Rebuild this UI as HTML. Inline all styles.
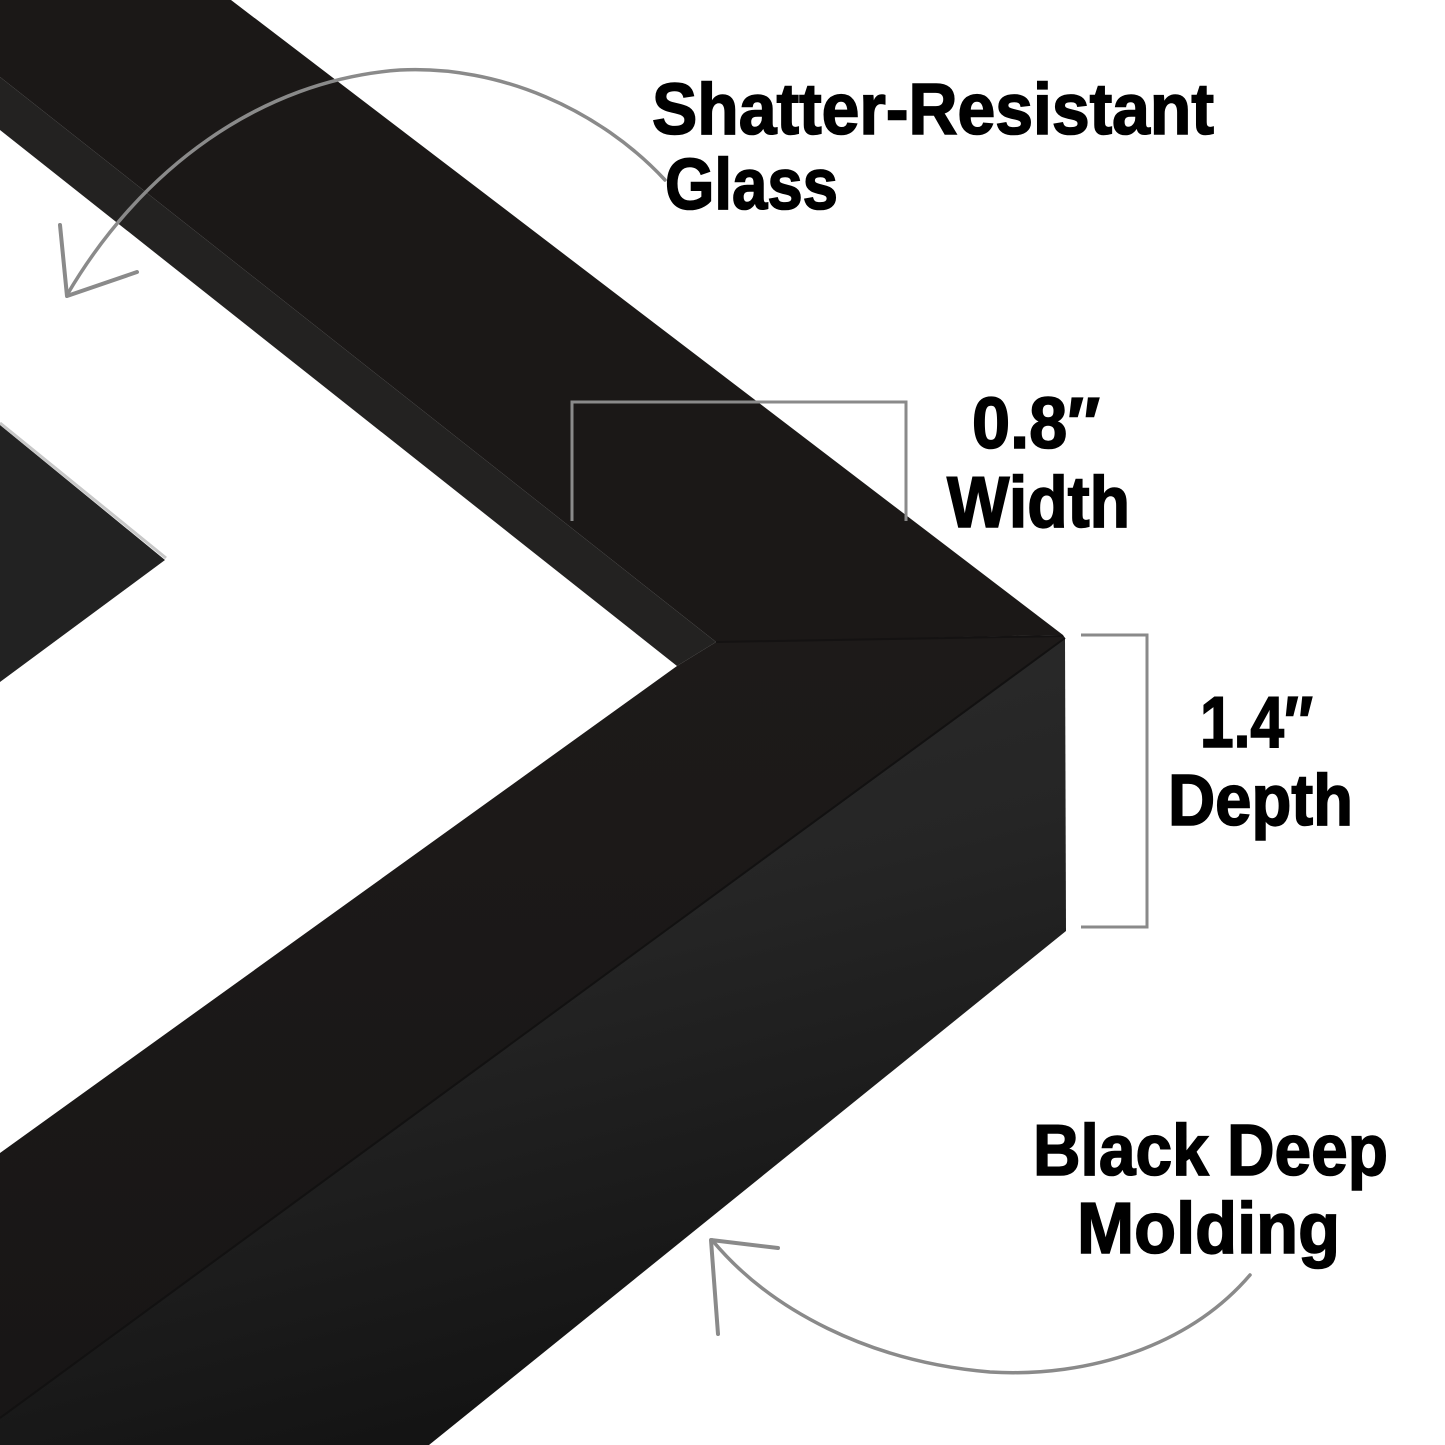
<!DOCTYPE html>
<html><head><meta charset="utf-8"><style>
html,body{margin:0;padding:0;background:#fff;}
svg{display:block;}
text{font-family:"Liberation Sans",sans-serif;font-weight:bold;fill:#000;stroke:#000;stroke-width:1.6;}
</style></head><body>
<svg width="1445" height="1445" viewBox="0 0 1445 1445" xmlns="http://www.w3.org/2000/svg">
<defs>
<linearGradient id="side" x1="0" y1="0" x2="0.35" y2="1">
<stop offset="0" stop-color="#2e2e2e"/><stop offset="0.5" stop-color="#252525"/><stop offset="1" stop-color="#141414"/>
</linearGradient>
<linearGradient id="front" x1="0" y1="0" x2="0" y2="1">
<stop offset="0" stop-color="#1d1a19"/><stop offset="1" stop-color="#181616"/>
</linearGradient>
</defs>
<rect width="1445" height="1445" fill="#fff"/>
<polygon points="0,425 165,560 0,682" fill="#222"/>
<line x1="0" y1="423" x2="166" y2="558" stroke="#c8c8c8" stroke-width="3"/>
<polygon points="0,0 231,0 1063,635 716,642 0,77" fill="#1b1817"/>
<polygon points="0,77 716,642 677,666 0,130" fill="#232221"/>
<polygon points="677,666 716,642 1063,635 1065,638 0,1418 0,1153" fill="url(#front)"/>
<line x1="716" y1="642" x2="1063" y2="636" stroke="#141212" stroke-width="2"/>
<polygon points="1065,638 1066,931 429,1445 0,1445 0,1418" fill="url(#side)"/>
<line x1="1065" y1="638" x2="0" y2="1418" stroke="#121111" stroke-width="2"/>
<polyline points="572,521 572,402 906,402 906,521" fill="none" stroke="#8a8a8a" stroke-width="3"/>
<polyline points="1081,635 1147,635 1147,927 1081,927" fill="none" stroke="#8a8a8a" stroke-width="3"/>
<path d="M665,180 C600,110 500,65 400,70 C260,80 140,170 67,295" fill="none" stroke="#8a8a8a" stroke-width="3.5" stroke-linecap="round"/>
<polyline points="60,225 67,296 137,272" fill="none" stroke="#8a8a8a" stroke-width="4" stroke-linecap="round" stroke-linejoin="round"/>
<path d="M1250,1275 C1190,1345 1090,1378 990,1372 C870,1362 770,1310 712,1240" fill="none" stroke="#8a8a8a" stroke-width="3.5" stroke-linecap="round"/>
<polyline points="778,1248 711,1240 718,1334" fill="none" stroke="#8a8a8a" stroke-width="4" stroke-linecap="round" stroke-linejoin="round"/>
<text x="652" y="134" font-size="72" textLength="562" lengthAdjust="spacingAndGlyphs">Shatter-Resistant</text>
<text x="665" y="209" font-size="72" textLength="173" lengthAdjust="spacingAndGlyphs">Glass</text>
<text x="972" y="448" font-size="72" textLength="128" lengthAdjust="spacingAndGlyphs">0.8″</text>
<text x="947" y="527" font-size="72" textLength="183" lengthAdjust="spacingAndGlyphs">Width</text>
<text x="1200" y="747" font-size="72" textLength="113" lengthAdjust="spacingAndGlyphs">1.4″</text>
<text x="1168" y="825" font-size="72" textLength="185" lengthAdjust="spacingAndGlyphs">Depth</text>
<text x="1033" y="1175" font-size="72" textLength="355" lengthAdjust="spacingAndGlyphs">Black Deep</text>
<text x="1077" y="1253" font-size="72" textLength="263" lengthAdjust="spacingAndGlyphs">Molding</text>
</svg>
</body></html>
